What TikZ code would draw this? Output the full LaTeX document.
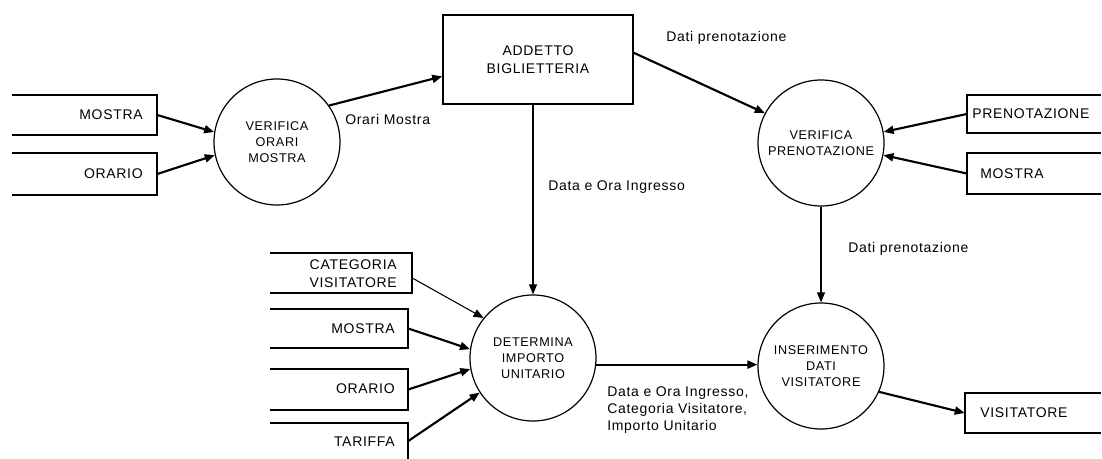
\documentclass[tikz,border=0pt]{standalone}
\usepackage{fontspec}
\setmainfont{Liberation Sans}[LetterSpace=5]
\usetikzlibrary{arrows.meta,calc}
\begin{document}
\begin{tikzpicture}[x=0.75pt,y=-0.75pt,
  proc/.style={circle,draw,line width=0.9pt,minimum size=94.5pt,inner sep=0pt,align=center,font=\fontsize{9.5}{12}\selectfont},
  store/.style={rectangle,draw=none,inner sep=0pt},
  storeline/.style={line width=1.2pt},
  boxtxt/.style={font=\fontsize{10.5}{13.5}\selectfont,inner sep=0pt},
  lbl/.style={font=\fontsize{10.5}{13}\selectfont,inner sep=0pt,align=left},
  flow/.style={line width=1.6pt,-{Triangle[length=7.5pt,width=6pt]}},
  thinflow/.style={line width=0.8pt,-{Triangle[length=7.5pt,width=6pt]}},
]
\useasboundingbox[fill=white] (0,0) rectangle (1102,459);

% processes
\node[proc] (vom) at (277,142) {VERIFICA\\ORARI\\MOSTRA};
\node[proc] (vp)  at (821,143) {VERIFICA\\PRENOTAZIONE};
\node[proc] (det) at (533,358) {DETERMINA\\IMPORTO\\UNITARIO};
\node[proc] (ins) at (821,366) {INSERIMENTO\\DATI\\VISITATORE};

% external entity
\node[draw,line width=1.2pt,minimum width=142.5pt,minimum height=66.75pt,align=center,
      font=\fontsize{10.5}{13.5}\selectfont] (add) at (538,59.5) {ADDETTO\\BIGLIETTERIA};

% data stores
\node[store,minimum width=108.75pt,minimum height=30pt]   (smo1) at (84.5,115) {};
\node[store,minimum width=108.75pt,minimum height=31.5pt]  (sor1) at (84.5,174) {};
\node[store,minimum width=100.5pt,minimum height=28.5pt]  (spr)  at (1034,114) {};
\node[store,minimum width=100.5pt,minimum height=30.75pt] (smo2) at (1034,173.5) {};
\node[store,minimum width=102pt,minimum height=30pt]      (svis) at (1033,413) {};
\node[store,minimum width=106.5pt,minimum height=30pt]    (scat) at (341,273) {};
\node[store,minimum width=103.5pt,minimum height=29.25pt] (smo3) at (339,328.5) {};
\node[store,minimum width=103.5pt,minimum height=30.75pt] (sor2) at (339,389.5) {};
\node[store,minimum width=103.5pt,minimum height=27pt]    (star) at (339,441) {};

\draw[storeline] (smo1.north west) -- (smo1.north east) -- (smo1.south east) -- (smo1.south west);
\draw[storeline] (sor1.north west) -- (sor1.north east) -- (sor1.south east) -- (sor1.south west);
\draw[storeline] (spr.north east) -- (spr.north west) -- (spr.south west) -- (spr.south east);
\draw[storeline] (smo2.north east) -- (smo2.north west) -- (smo2.south west) -- (smo2.south east);
\draw[storeline] (svis.north east) -- (svis.north west) -- (svis.south west) -- (svis.south east);
\draw[storeline] (scat.north west) -- (scat.north east) -- (scat.south east) -- (scat.south west);
\draw[storeline] (smo3.north west) -- (smo3.north east) -- (smo3.south east) -- (smo3.south west);
\draw[storeline] (sor2.north west) -- (sor2.north east) -- (sor2.south east) -- (sor2.south west);
\draw[storeline] (star.north west) -- (star.north east) -- (star.south east);

\node[boxtxt,anchor=east] (tmo1) at (143,115) {MOSTRA};
\node[boxtxt,anchor=east] (tor1) at (143,174) {ORARIO};
\node[boxtxt,anchor=west] (tpr)  at (972,114) {PRENOTAZIONE};
\node[boxtxt,anchor=west] (tmo2) at (980,174) {MOSTRA};
\node[boxtxt,anchor=west] (tvis) at (980,413) {VISITATORE};
\node[boxtxt,anchor=east,align=right] (tcat) at (397,274) {CATEGORIA\\VISITATORE};
\node[boxtxt,anchor=east] (tmo3) at (395,329) {MOSTRA};
\node[boxtxt,anchor=east] (tor2) at (395,389) {ORARIO};
\node[boxtxt,anchor=east] (ttar) at (395,442) {TARIFFA};

% flow labels
\node[lbl,anchor=west] (l1) at (345,119) {Orari Mostra};
\node[lbl,anchor=west] (l2) at (666,38) {Dati prenotazione};
\node[lbl,anchor=west] (l3) at (548,187) {Data e Ora Ingresso};
\node[lbl,anchor=west] (l4) at (848,249) {Dati prenotazione};
\node[lbl,anchor=west] (l5) at (607,410) {Data e Ora Ingresso,\\Categoria Visitatore,\\Importo Unitario};

% flows
\draw[flow] (smo1.east) -- (vom.171);
\draw[flow] (sor1.east) -- (vom.192);
\draw[flow] (vom.35) -- (add.190);
\draw[flow] (add.4) -- (vp.152);
\draw[thinflow] (add.south -| det.north) -- (det.north);
\draw[flow] (spr.west) -- (vp.10);
\draw[flow] (smo2.west) -- (vp.-11);
\draw[thinflow] (vp.south) -- (ins.north);
\draw[thinflow] (scat.-4) -- (det.141);
\draw[flow] (smo3.east) -- (det.172);
\draw[flow] (sor2.east) -- (det.190);
\draw[flow] (star.east) -- (det.213);
\draw[flow] (det.-6) -- (ins.west |- det.-6);
\draw[flow] (ins.-24) -- (svis.west);
\end{tikzpicture}
\end{document}
